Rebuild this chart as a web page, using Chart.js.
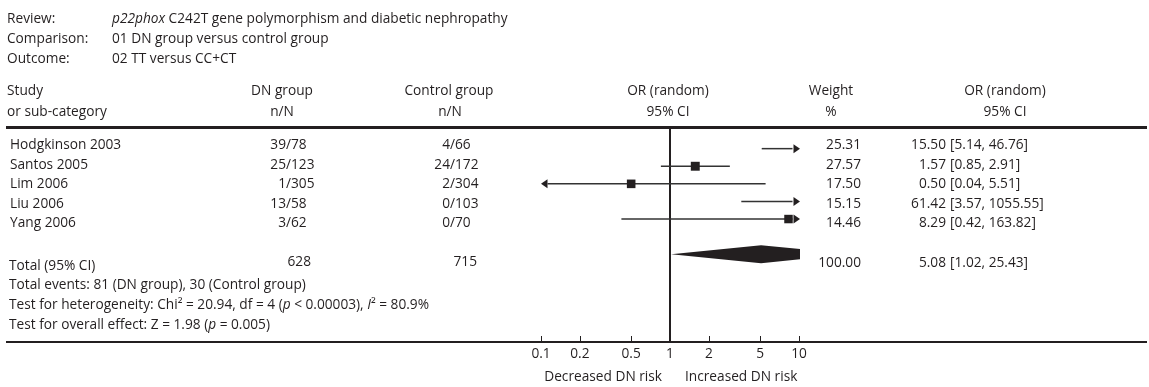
<!DOCTYPE html>
<html><head><meta charset="utf-8">
<script src="https://cdn.jsdelivr.net/npm/chart.js@4/dist/chart.umd.min.js"></script>
<style>html,body{margin:0;padding:0;background:#fff;overflow:hidden}#wrap{width:1149px;height:387px;position:relative}</style>
</head><body><div id="wrap"><canvas id="c" width="1149" height="387"></canvas></div>
<script>
// ---- data ----
const studies = ['Hodgkinson 2003', 'Santos 2005', 'Lim 2006', 'Liu 2006', 'Yang 2006'];
const dnEvents = [39, 25, 1, 13, 3];
const dnTotal = [78, 123, 305, 58, 62];
const ctrlEvents = [4, 24, 2, 0, 0];
const ctrlTotal = [66, 172, 304, 103, 70];
const weights = [25.31, 27.57, 17.50, 15.15, 14.46];
const orValues = [15.50, 1.57, 0.50, 61.42, 8.29];
const ciLow = [5.14, 0.85, 0.04, 3.57, 0.42];
const ciHigh = [46.76, 2.91, 5.51, 1055.55, 163.82];
const totalDN = 628;
const totalCtrl = 715;
const totalWeight = 100.00;
const pooledOR = [5.08];
const pooledLow = [1.02];
const pooledHigh = [25.43];
const xTicks = [0.1, 0.2, 0.5, 1, 2, 5, 10];

const INK = '#231f20';
const LINE = '#333333';
const FAMILY = '"Open Sans", "Noto Sans", sans-serif';
const FS = 13.7;
const fnt = (it) => (it ? 'italic ' : '') + FS + 'px ' + FAMILY;

function runs(ctx, x, y, parts, align) {
  let total = 0;
  parts.forEach(p => { ctx.font = fnt(p[1]); total += ctx.measureText(p[0]).width; });
  let cx = align === 'center' ? x - total / 2 : align === 'right' ? x - total : x;
  ctx.textAlign = 'left';
  parts.forEach(p => { ctx.font = fnt(p[1]); ctx.fillText(p[0], cx, y); cx += ctx.measureText(p[0]).width; });
}
function txt(ctx, s, x, y, align, it) {
  ctx.font = fnt(it); ctx.textAlign = align || 'left'; ctx.fillText(s, x, y);
}

const forest = {
  id: 'forest',
  beforeDatasetsDraw(chart) {
    const ctx = chart.ctx, xs = chart.scales.x, ys = chart.scales.y, ca = chart.chartArea;
    ctx.save();
    // line of no effect
    ctx.strokeStyle = INK; ctx.lineWidth = 2;
    const x1 = Math.round(xs.getPixelForValue(1));
    ctx.beginPath(); ctx.moveTo(x1, 126); ctx.lineTo(x1, ca.bottom); ctx.stroke();
    // confidence intervals
    ctx.strokeStyle = LINE; ctx.fillStyle = INK; ctx.lineWidth = 1.5;
    const AL = 6.5, AH = 4.5;
    studies.forEach((s, i) => {
      const y = ys.getPixelForValue(i + 1);
      let a = xs.getPixelForValue(Math.max(ciLow[i], xs.min));
      let b = xs.getPixelForValue(Math.min(ciHigh[i], xs.max));
      const leftArrow = ciLow[i] < xs.min, rightArrow = ciHigh[i] > xs.max;
      ctx.beginPath();
      ctx.moveTo(leftArrow ? a + AL : a, y);
      ctx.lineTo(rightArrow ? b - AL : b, y);
      ctx.stroke();
      if (rightArrow) {
        ctx.beginPath(); ctx.moveTo(b + 1, y); ctx.lineTo(b + 1 - AL, y - AH); ctx.lineTo(b + 1 - AL, y + AH); ctx.closePath(); ctx.fill();
      }
      if (leftArrow) {
        ctx.beginPath(); ctx.moveTo(a, y); ctx.lineTo(a + AL, y - AH); ctx.lineTo(a + AL, y + AH); ctx.closePath(); ctx.fill();
      }
    });
    // pooled diamond
    const yd = ys.getPixelForValue(studies.length + 2);
    ctx.save();
    ctx.beginPath(); ctx.rect(ca.left, ca.top, ca.right - ca.left + 1, ca.bottom - ca.top); ctx.clip();
    ctx.fillStyle = INK;
    ctx.beginPath();
    ctx.moveTo(xs.getPixelForValue(pooledLow[0]), yd);
    ctx.lineTo(xs.getPixelForValue(pooledOR[0]), yd - 9);
    ctx.lineTo(xs.getPixelForValue(pooledHigh[0]), yd);
    ctx.lineTo(xs.getPixelForValue(pooledOR[0]), yd + 9);
    ctx.closePath(); ctx.fill();
    ctx.restore();
    ctx.restore();
  },
  afterDraw(chart) {
    const ctx = chart.ctx, xs = chart.scales.x, ca = chart.chartArea;
    ctx.save();
    ctx.fillStyle = INK; ctx.textBaseline = 'middle';
    // header block
    txt(ctx, 'Review:', 7, 19);
    runs(ctx, 112, 19, [['p22phox', true], [' C242T gene polymorphism and diabetic nephropathy', false]], 'left');
    txt(ctx, 'Comparison:', 7, 39);
    txt(ctx, '01 DN group versus control group', 112, 39);
    txt(ctx, 'Outcome:', 7, 59);
    txt(ctx, '02 TT versus CC+CT', 112, 59);
    // column headers
    txt(ctx, 'Study', 7, 91); txt(ctx, 'or sub-category', 7, 112);
    txt(ctx, 'DN group', 282, 91, 'center'); txt(ctx, 'n/N', 282, 112, 'center');
    txt(ctx, 'Control group', 449, 91, 'center'); txt(ctx, 'n/N', 450, 112, 'center');
    txt(ctx, 'OR (random)', 668, 91, 'center'); txt(ctx, '95% CI', 668, 112, 'center');
    txt(ctx, 'Weight', 831, 91, 'center'); txt(ctx, '%', 831, 112, 'center');
    txt(ctx, 'OR (random)', 1005, 91, 'center'); txt(ctx, '95% CI', 1005, 112, 'center');
    // rows
    studies.forEach((s, i) => {
      const y = 145.5 + i * 19.5;
      txt(ctx, s, 10, y);
      txt(ctx, dnEvents[i] + '/', 291, y, 'right'); txt(ctx, String(dnTotal[i]), 291, y, 'left');
      txt(ctx, ctrlEvents[i] + '/', 455, y, 'right'); txt(ctx, String(ctrlTotal[i]), 455, y, 'left');
      txt(ctx, weights[i].toFixed(2), 861, y, 'right');
      txt(ctx, orValues[i].toFixed(2), 946, y, 'right');
      txt(ctx, '[' + ciLow[i].toFixed(2) + ', ' + ciHigh[i].toFixed(2) + ']', 950, y, 'left');
    });
    // totals
    txt(ctx, 'Total (95% CI)', 9, 266);
    txt(ctx, String(totalDN), 311, 262, 'right');
    txt(ctx, String(totalCtrl), 477, 262, 'right');
    txt(ctx, totalWeight.toFixed(2), 861, 263, 'right');
    txt(ctx, pooledOR[0].toFixed(2), 946, 263, 'right');
    txt(ctx, '[' + pooledLow[0].toFixed(2) + ', ' + pooledHigh[0].toFixed(2) + ']', 950, 263, 'left');
    const sumDN = dnEvents.reduce((a, b) => a + b, 0), sumC = ctrlEvents.reduce((a, b) => a + b, 0);
    txt(ctx, 'Total events: ' + sumDN + ' (DN group), ' + sumC + ' (Control group)', 9, 285);
    runs(ctx, 9, 305, [['Test for heterogeneity: Chi\u00B2 = 20.94, df = 4 (', false], ['p', true], [' < 0.00003), ', false], ['I', true], ['\u00B2 = 80.9%', false]], 'left');
    runs(ctx, 9, 325, [['Test for overall effect: Z = 1.98 (', false], ['p', true], [' = 0.005)', false]], 'left');
    // rules
    ctx.strokeStyle = INK;
    ctx.lineWidth = 3; ctx.beginPath(); ctx.moveTo(6, 127.5); ctx.lineTo(1147, 127.5); ctx.stroke();
    ctx.lineWidth = 2; ctx.beginPath(); ctx.moveTo(6, ca.bottom + 1); ctx.lineTo(1147, ca.bottom + 1); ctx.stroke();
    // tick marks (upward)
    ctx.lineWidth = 1;
    xs.ticks.forEach((t, i) => {
      const px = Math.round(xs.getPixelForTick(i)) + 0.5;
      ctx.beginPath(); ctx.moveTo(px, ca.bottom - 5); ctx.lineTo(px, ca.bottom); ctx.stroke();
    });
    const x1 = xs.getPixelForValue(1);
    txt(ctx, 'Decreased DN risk', x1 - 8, 377, 'right');
    txt(ctx, 'Increased DN risk', x1 + 15, 377, 'left');
    ctx.restore();
  }
};

new Chart(document.getElementById('c'), {
  type: 'scatter',
  data: {
    datasets: [{
      data: studies.map((s, i) => ({ x: orValues[i], y: i + 1 })),
      pointStyle: 'rect',
      pointRadius: weights.map(w => (8 + w / 30) / 1.4142),
      pointBorderWidth: 0,
      backgroundColor: INK,
      borderColor: INK
    }]
  },
  options: {
    responsive: false,
    animation: false,
    events: [],
    layout: { padding: { left: 541, right: 350, top: 127, bottom: 0 } },
    plugins: { legend: { display: false }, tooltip: { enabled: false } },
    scales: {
      x: {
        type: 'logarithmic', min: 0.1, max: 10,
        afterBuildTicks: (s) => { s.ticks = xTicks.map(v => ({ value: v })); },
        afterFit: (s) => { s.height = 46; },
        grid: { display: false, drawTicks: false },
        border: { display: false },
        ticks: { color: INK, font: { family: FAMILY, size: FS }, padding: 5, maxRotation: 0, autoSkip: false,
          callback: (v) => String(v) }
      },
      y: { type: 'linear', reverse: true, min: -0.23, max: 11.93, display: false }
    }
  },
  plugins: [forest]
});
</script></body></html>
